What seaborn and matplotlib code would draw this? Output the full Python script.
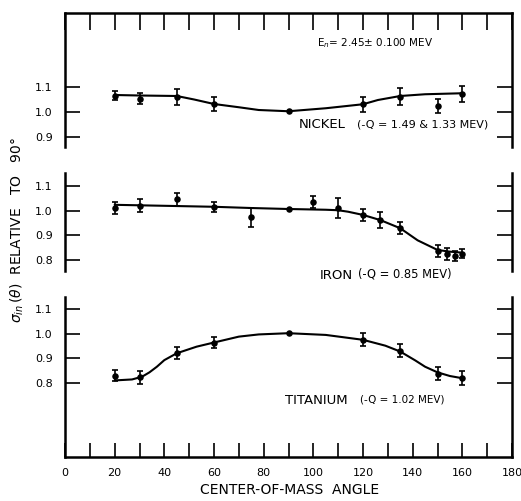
import numpy as np
import pandas as pd
import matplotlib
matplotlib.use("Agg")
import matplotlib.pyplot as plt
import seaborn as sns

# ---------------- data ----------------
ni_angle = [20, 30, 45, 60, 90, 120, 135, 150, 160]
ni_value = [1.065, 1.052, 1.061, 1.032, 1.003, 1.031, 1.061, 1.024, 1.072]
ni_err = [0.019, 0.022, 0.032, 0.029, 0.0, 0.031, 0.035, 0.029, 0.032]
ni_curve_angle = [20, 30, 45, 52, 60, 70, 78, 90, 105, 120, 126, 135, 145, 160]
ni_curve_value = [1.068, 1.066, 1.064, 1.050, 1.032, 1.019, 1.008, 1.003, 1.015, 1.031, 1.048, 1.064, 1.071, 1.075]

fe_angle = [20, 30, 45, 60, 75, 90, 100, 110, 120, 127, 135, 150, 154, 157, 160]
fe_value = [1.010, 1.020, 1.046, 1.015, 0.973, 1.007, 1.034, 1.010, 0.983, 0.962, 0.929, 0.838, 0.825, 0.817, 0.825]
fe_err = [0.025, 0.026, 0.025, 0.021, 0.037, 0.0, 0.024, 0.040, 0.026, 0.034, 0.025, 0.025, 0.025, 0.021, 0.018]
fe_curve_angle = [20, 40, 60, 75, 90, 105, 110, 114, 120, 127, 135, 142, 150, 155, 160]
fe_curve_value = [1.024, 1.020, 1.016, 1.011, 1.007, 1.004, 1.002, 0.996, 0.983, 0.962, 0.929, 0.880, 0.841, 0.834, 0.830]

ti_angle = [20, 30, 45, 60, 90, 120, 135, 150, 160]
ti_value = [0.830, 0.822, 0.921, 0.965, 1.003, 0.976, 0.932, 0.837, 0.819]
ti_err = [0.024, 0.025, 0.024, 0.024, 0.0, 0.027, 0.026, 0.026, 0.028]
ti_curve_angle = [20, 27, 31, 34, 37, 40, 45, 53, 60, 70, 78, 90, 105, 120, 129, 135, 141, 145, 150, 155, 160]
ti_curve_value = [0.810, 0.814, 0.825, 0.843, 0.866, 0.893, 0.921, 0.948, 0.965, 0.989, 0.998, 1.003, 0.996, 0.976, 0.952, 0.928, 0.892, 0.866, 0.843, 0.828, 0.819]

x_ticks = list(range(0, 181, 10))
x_ticklabels = [str(t) if t % 20 == 0 else "" for t in x_ticks]
ytick_top = [0.9, 1.0, 1.1]
ytick_mid = [0.8, 0.9, 1.0, 1.1]
ytick_bot = [0.8, 0.9, 1.0, 1.1]

# ---------------- figure ----------------
sns.set_style("ticks", {"axes.edgecolor": "black", "xtick.color": "black",
                        "ytick.color": "black", "text.color": "black"})
plt.rcParams["font.family"] = ["DejaVu Sans"]
plt.rcParams["mathtext.fontset"] = "dejavusans"

W, H = 521, 501
fig = plt.figure(figsize=(W / 100, H / 100), dpi=100)

def px_axes(top, bottom, left=65, right=512):
    return fig.add_axes([left / W, (H - bottom) / H, (right - left) / W, (bottom - top) / H])

ax_ni = px_axes(13, 147)
ax_fe = px_axes(173, 271)
ax_ti = px_axes(297, 457)

panels = [
    (ax_ni, ni_angle, ni_value, ni_err, ni_curve_angle, ni_curve_value, (0.86, 1.396), ytick_top),
    (ax_fe, fe_angle, fe_value, fe_err, fe_curve_angle, fe_curve_value, (0.7556, 1.153), ytick_mid),
    (ax_ti, ti_angle, ti_value, ti_err, ti_curve_angle, ti_curve_value, (0.497, 1.151), ytick_bot),
]

for ax, a, v, e, ca, cv, ylim, yt in panels:
    cdf = pd.DataFrame({"angle": ca, "value": cv})
    sns.lineplot(data=cdf, x="angle", y="value", ax=ax, color="black", lw=1.5, sort=True)
    pdf = pd.DataFrame({"angle": a, "value": v, "err": e})
    ebar = pdf[pdf["err"] > 0]
    ax.errorbar(ebar["angle"], ebar["value"], yerr=ebar["err"], fmt="none",
                ecolor="black", elinewidth=1.2, capsize=2.2, capthick=1.2)
    sns.scatterplot(data=pdf, x="angle", y="value", ax=ax, color="black", s=22,
                    edgecolor="black", linewidth=0, zorder=5)
    ax.set_xlim(0, 180)
    ax.set_ylim(*ylim)
    ax.set_yticks(yt)
    ax.set_yticklabels([f"{t:.1f}" for t in yt], fontsize=8)
    ax.tick_params(axis="y", direction="in", length=11, width=1.2, left=True, right=True,
                   pad=9, colors="black")
    ax.set_xlabel("")
    ax.set_ylabel("")
    for s in ax.spines.values():
        s.set_linewidth(1.8)
        s.set_color("black")
    ax.set_facecolor("none")

# spines & x ticks per panel
ax_ni.spines["bottom"].set_visible(False)
ax_ni.set_xticks(x_ticks)
ax_ni.tick_params(axis="x", direction="in", length=12, width=1.2, top=True, bottom=False,
                  labeltop=False, labelbottom=False)

ax_fe.spines["top"].set_visible(False)
ax_fe.spines["bottom"].set_visible(False)
ax_fe.set_xticks([])

ax_ti.spines["top"].set_visible(False)
ax_ti.set_xticks(x_ticks)
ax_ti.set_xticklabels(x_ticklabels, fontsize=8)
ax_ti.tick_params(axis="x", direction="in", length=10, width=1.2, top=False, bottom=True,
                  pad=8, colors="black")

# annotations
ax_ni.text(101.5, 1.276, r"E$_n$= 2.45$\pm$ 0.100 MEV", fontsize=7.5, ha="left", va="center")
ax_ni.text(94.2, 0.948, "NICKEL", fontsize=9.5, ha="left", va="center")
ax_ni.text(117.6, 0.950, "(-Q = 1.49 & 1.33 MEV)", fontsize=8.0, ha="left", va="center")

ax_fe.text(102.7, 0.739, "IRON", fontsize=9.5, ha="left", va="center")
ax_fe.text(118.0, 0.745, "(-Q = 0.85 MEV)", fontsize=8.3, ha="left", va="center")

ax_ti.text(88.6, 0.727, "TITANIUM", fontsize=9.5, ha="left", va="center")
ax_ti.text(118.8, 0.733, "(-Q = 1.02 MEV)", fontsize=7.5, ha="left", va="center")

fig.text(17 / W, (H - 230) / H, r"$\sigma_{in}\,(\theta)$  RELATIVE   TO   90°", rotation=90,
         ha="center", va="center", fontsize=10)
fig.text(290 / W, (H - 490) / H, "CENTER-OF-MASS  ANGLE", ha="center", va="center", fontsize=10)

fig.savefig("out.png", dpi=100)
